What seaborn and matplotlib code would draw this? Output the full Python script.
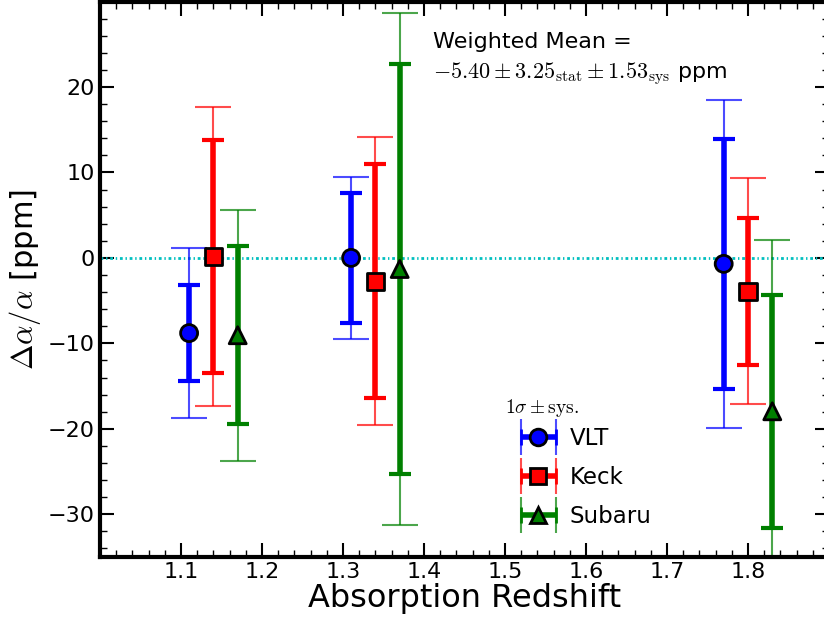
import numpy as np
import pandas as pd
import matplotlib
matplotlib.use("Agg")
import matplotlib.pyplot as plt
import seaborn as sns
from matplotlib.container import ErrorbarContainer
from matplotlib.legend_handler import HandlerErrorbar, HandlerTuple

# --- data ---
telescopes = ['VLT', 'Keck', 'Subaru']
z_vlt = [1.11, 1.31, 1.77]
z_keck = [1.14, 1.34, 1.80]
z_subaru = [1.17, 1.37, 1.83]

da_vlt = [-8.8, 0.0, -0.7]
da_keck = [0.15, -2.75, -3.9]
da_subaru = [-9.05, -1.3, -17.95]

stat_vlt = [5.6, 7.6, 14.6]
stat_keck = [13.6, 13.7, 8.6]
stat_subaru = [10.4, 24.0, 13.65]

tot_vlt = [9.95, 9.45, 19.2]
tot_keck = [17.5, 16.85, 13.25]
tot_subaru = [14.7, 30.0, 20.0]

COLORS = {'VLT': '#0000ff', 'Keck': '#ff0000', 'Subaru': '#008000'}
MARKERS = {'VLT': 'o', 'Keck': 's', 'Subaru': '^'}

df = pd.DataFrame({
    'telescope': np.repeat(telescopes, 3),
    'z': z_vlt + z_keck + z_subaru,
    'da': da_vlt + da_keck + da_subaru,
    'stat': stat_vlt + stat_keck + stat_subaru,
    'tot': tot_vlt + tot_keck + tot_subaru,
})

sns.set_style('ticks')
plt.rcParams['font.family'] = ['DejaVu Sans']
plt.rcParams['mathtext.fontset'] = 'cm'
plt.rcParams['axes.linewidth'] = 3
for key in ['text.color', 'axes.labelcolor', 'xtick.color', 'ytick.color', 'axes.edgecolor']:
    plt.rcParams[key] = 'black'

fig = plt.figure(figsize=(8.24, 6.21), dpi=100)
ax = fig.add_axes([100 / 824, 64 / 621, 729 / 824, 555.5 / 621])

ax.axhline(0, color='c', ls=(0, (1, 1, 0.5, 1)), lw=2, zorder=1)

handles = []
for tel in telescopes:
    sub = df[df['telescope'] == tel]
    c = COLORS[tel]
    # systematic (outer, thin) bars
    ax.errorbar(sub['z'], sub['da'], yerr=sub['tot'], fmt='none', ecolor=c,
                elinewidth=1.5, capsize=13, capthick=1.5, alpha=0.7, zorder=2)
    # statistical (inner, thick) bars
    ax.errorbar(sub['z'], sub['da'], yerr=sub['stat'], fmt='none', ecolor=c,
                elinewidth=4, capsize=8, capthick=3, zorder=3)
    # legend proxies
    h_thin = ax.errorbar([np.nan], [np.nan], xerr=[1], fmt='none', ecolor=c,
                         elinewidth=1.5, capsize=13, capthick=1.5, alpha=0.7)
    h_thick = ax.errorbar([np.nan], [np.nan], xerr=[1], fmt=MARKERS[tel], color=c,
                          ecolor=c, elinewidth=4, capsize=6, capthick=3,
                          ms=12, mec='k', mew=2)
    handles.append((h_thin, h_thick))

sns.scatterplot(data=df, x='z', y='da', hue='telescope', style='telescope',
                palette=COLORS, markers=MARKERS, s=150, edgecolor='k',
                linewidth=2, legend=False, ax=ax, zorder=5)

ax.set_xlim(1.0, 1.9)
ax.set_ylim(-35, 30)
ax.set_xticks(np.arange(1.1, 1.85, 0.1))
ax.set_xticks(np.arange(1.0, 1.9, 0.02), minor=True)
ax.set_yticks([-30, -20, -10, 0, 10, 20])
ax.set_yticks(np.arange(-34, 30, 2), minor=True)
ax.tick_params(which='both', direction='in', top=True, right=True, labelsize=16)
ax.tick_params(which='major', length=10, width=1.5)
ax.tick_params(which='minor', length=5, width=1)

ax.set_xlabel('Absorption Redshift', fontsize=23, labelpad=1)
ax.set_ylabel(r'$\Delta\alpha/\alpha$ [ppm]', fontsize=22, labelpad=4)

ax.text(0.457, 0.945, 'Weighted Mean =\n'
        r'$-5.40\pm3.25_{\rm stat}\pm1.53_{\rm sys}$ ppm',
        transform=ax.transAxes, ha='left', va='top', fontsize=16,
        linespacing=1.45)

# legend title drawn separately so it can sit left of the handles
ax.text(0.556, 0.249, r'$1\sigma\pm{\rm sys.}$', transform=ax.transAxes,
        ha='left', va='bottom', fontsize=14)

leg = ax.legend(handles, telescopes, loc='upper left',
                bbox_to_anchor=(0.5495, 0.272), frameon=False, fontsize=16.5,
                handlelength=1.5, handletextpad=0.6, labelspacing=0.7,
                handler_map={tuple: HandlerTuple(ndivide=1),
                             ErrorbarContainer: HandlerErrorbar(xerr_size=0.75)})

fig.savefig('out.png', dpi=100)
